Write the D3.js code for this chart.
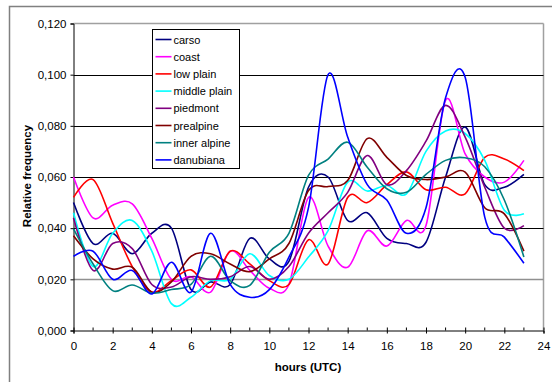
<!DOCTYPE html>
<html>
<head>
<meta charset="utf-8">
<script src="https://cdn.jsdelivr.net/npm/d3@7"></script>
<style>
  body { margin: 0; background: #fff; }
  svg text { font-family: "Liberation Sans", Arial, sans-serif; fill: #000; }
</style>
</head>
<body>
<svg id="chartSVG" width="552" height="382"></svg>
<script>
/* ---------- Data ---------- */
const hours = d3.range(0, 24);
const seriesNames = ["carso", "coast", "low plain", "middle plain", "piedmont", "prealpine", "inner alpine", "danubiana"];
const seriesColours = ["#000080", "#ff00ff", "#ff0000", "#00ffff", "#800080", "#800000", "#008080", "#0000ff"];

const carso      = [0.050, 0.034, 0.038, 0.030, 0.038, 0.040, 0.016, 0.019, 0.018, 0.036, 0.028, 0.027, 0.056, 0.060, 0.043, 0.046, 0.036, 0.034, 0.0345, 0.060, 0.0795, 0.057, 0.056, 0.061];
const coast      = [0.060, 0.044, 0.049, 0.0495, 0.036, 0.020, 0.021, 0.015, 0.031, 0.0235, 0.0165, 0.018, 0.052, 0.033, 0.0247, 0.039, 0.033, 0.043, 0.041, 0.090, 0.069, 0.060, 0.058, 0.0665];
const lowPlain   = [0.052, 0.059, 0.042, 0.025, 0.015, 0.0195, 0.0237, 0.017, 0.031, 0.026, 0.0195, 0.018, 0.0355, 0.026, 0.052, 0.050, 0.057, 0.062, 0.055, 0.056, 0.0534, 0.0677, 0.067, 0.0625];
const middlePlain = [0.046, 0.025, 0.038, 0.043, 0.031, 0.0105, 0.013, 0.0195, 0.020, 0.030, 0.0215, 0.020, 0.0287, 0.039, 0.058, 0.0545, 0.0567, 0.0534, 0.070, 0.078, 0.077, 0.0665, 0.047, 0.0456];
const piedmont   = [0.044, 0.0235, 0.034, 0.032, 0.018, 0.017, 0.021, 0.020, 0.021, 0.025, 0.020, 0.025, 0.038, 0.046, 0.054, 0.0684, 0.057, 0.0625, 0.074, 0.088, 0.0756, 0.056, 0.040, 0.041];
const prealpine  = [0.037, 0.028, 0.024, 0.0247, 0.015, 0.019, 0.029, 0.030, 0.026, 0.023, 0.028, 0.034, 0.0547, 0.0563, 0.0586, 0.075, 0.0677, 0.0606, 0.059, 0.060, 0.0619, 0.048, 0.0456, 0.031];
const innerAlpine = [0.0397, 0.026, 0.0156, 0.0178, 0.0146, 0.016, 0.018, 0.029, 0.0195, 0.0176, 0.0306, 0.038, 0.0606, 0.067, 0.0736, 0.0638, 0.0554, 0.054, 0.061, 0.0665, 0.0675, 0.064, 0.051, 0.0287];
const danubiana  = [0.029, 0.031, 0.020, 0.0235, 0.0143, 0.0267, 0.015, 0.038, 0.018, 0.013, 0.016, 0.0287, 0.048, 0.100, 0.0756, 0.057, 0.051, 0.038, 0.048, 0.091, 0.099, 0.0443, 0.0365, 0.0263];
const allSeries = [carso, coast, lowPlain, middlePlain, piedmont, prealpine, innerAlpine, danubiana];

const xTicks = d3.range(0, 25, 2);
const yTicks = [0, 0.02, 0.04, 0.06, 0.08, 0.10, 0.12];

/* ---------- Frame ---------- */
var svg = d3.select("#chartSVG");
svg.append("rect")
    .attr("x", 9.5).attr("y", 6.5)
    .attr("width", 620).attr("height", 420)
    .attr("fill", "none").attr("stroke", "#808080").attr("stroke-width", 1.5);

/* ---------- Scales ---------- */
var plotLeft = 73.5, plotRight = 543.5, plotTop = 23.5, plotBottom = 330.5;
var xScale = d3.scaleLinear().domain([0, 24]).range([plotLeft, plotRight]);
var yScale = d3.scaleLinear().domain([0, 0.12]).range([plotBottom, plotTop]);
var fmt = v => d3.format(".3f")(v).replace(".", ",");

// plot area border (grey), gridlines black
svg.append("line").attr("x1", plotLeft).attr("x2", plotRight).attr("y1", plotTop).attr("y2", plotTop)
    .attr("stroke", "#a0a0a0").attr("stroke-width", 1.5);
svg.append("line").attr("x1", plotRight).attr("x2", plotRight).attr("y1", plotTop).attr("y2", plotBottom)
    .attr("stroke", "#a0a0a0").attr("stroke-width", 1.5);
yTicks.slice(1, -1).forEach(t => {
    svg.append("line")
        .attr("x1", plotLeft).attr("x2", plotRight)
        .attr("y1", Math.round(yScale(t)) + 0.5).attr("y2", Math.round(yScale(t)) + 0.5)
        .attr("stroke", t === 0.02 ? "#909090" : "#000")
        .attr("stroke-width", t === 0.02 ? 1.5 : 1);
});

/* ---------- Axes ---------- */
var yAxis = d3.axisLeft(yScale).tickValues(yTicks).tickFormat(fmt).tickSizeOuter(0).tickSize(3).tickPadding(4);
var yG = svg.append("g").attr("transform", "translate(" + plotLeft + ",0)").call(yAxis);
var xAxis = d3.axisBottom(xScale).tickValues(xTicks).tickSizeOuter(0).tickSize(3).tickPadding(8);
var xG = svg.append("g").attr("transform", "translate(0," + plotBottom + ")").call(xAxis);
// minor hour ticks inside the plot
xG.selectAll(".minor").data(d3.range(1, 24, 2)).enter().append("line")
    .attr("x1", d => xScale(d)).attr("x2", d => xScale(d))
    .attr("y1", 0).attr("y2", -3).attr("stroke", "#000");
xG.selectAll(".tick line").attr("y1", -3).attr("y2", 3);
[yG, xG].forEach(g => {
    g.select(".domain").attr("stroke", "#000");
    g.selectAll(".tick line").attr("stroke", "#000");
    g.selectAll("text").style("font-size", "11.5px").attr("fill", "#000");
});

/* ---------- Lines ---------- */
var line = d3.line()
    .x((d, i) => xScale(hours[i]))
    .y(d => yScale(d))
    .curve(d3.curveCardinal.tension(0));
allSeries.forEach((values, i) => {
    svg.append("path")
        .attr("d", line(values))
        .attr("fill", "none")
        .attr("stroke", seriesColours[i])
        .attr("stroke-width", 1.6);
});

/* ---------- Titles ---------- */
svg.append("text")
    .text("hours (UTC)")
    .attr("x", 308).attr("y", 371)
    .attr("text-anchor", "middle")
    .style("font-size", "11.5px").style("font-weight", "bold");
svg.append("text")
    .text("Relative frequency")
    .attr("text-anchor", "middle")
    .attr("transform", "translate(31,176) rotate(-90)")
    .style("font-size", "11.5px").style("font-weight", "bold");

/* ---------- Legend ---------- */
var legend = svg.append("g").attr("transform", "translate(152.5,29.5)");
legend.append("rect")
    .attr("width", 87).attr("height", 139)
    .attr("fill", "#fff").attr("stroke", "#000");
seriesNames.forEach((name, i) => {
    var y = 10 + i * 17.2;
    legend.append("line")
        .attr("x1", 3).attr("x2", 19).attr("y1", y).attr("y2", y)
        .attr("stroke", seriesColours[i]).attr("stroke-width", 1.6);
    legend.append("text")
        .text(name)
        .attr("x", 21).attr("y", y + 4)
        .style("font-size", "11px");
});
</script>
</body>
</html>
